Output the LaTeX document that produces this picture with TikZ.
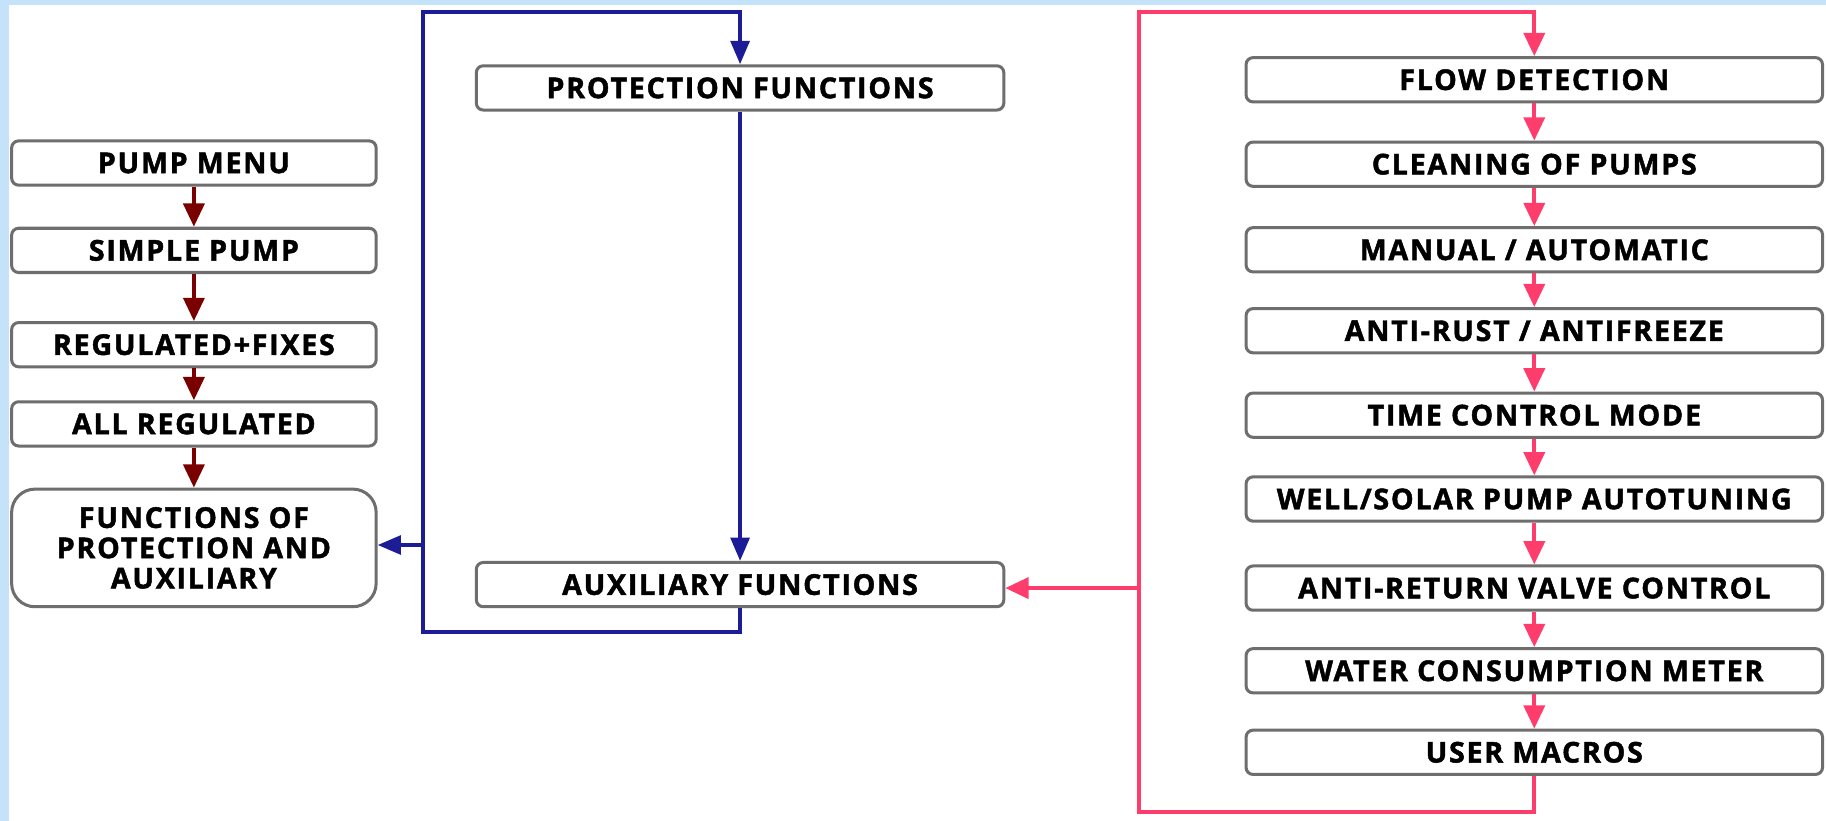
\documentclass[tikz,border=0pt]{standalone}
\usepackage{fontspec}
\newfontfamily\boxfont[LetterSpace=6, BoldFeatures={FakeBold=1.6}]{Open Sans}
\usetikzlibrary{arrows.meta}
\definecolor{edgeblue}{HTML}{C4E2FA}
\definecolor{boxgray}{HTML}{6E6E6E}
\definecolor{menured}{HTML}{7A0000}
\definecolor{navyline}{HTML}{1C1C96}
\definecolor{pinkline}{HTML}{FF3D6C}
\tikzset{
  box/.style={draw=boxgray, line width=1.3pt, rounded corners=3pt, fill=white,
    minimum height=19pt, inner sep=0pt, align=center,
    font=\boxfont\bfseries\fontsize{12.3}{13}\selectfont},
  lbox/.style={box, minimum width=156.5pt},
  mbox/.style={box, minimum width=226.5pt},
  rbox/.style={box, minimum width=247.5pt},
  redarrow/.style={draw=menured, line width=1.7pt, -{Triangle[length=10pt,width=9pt]}},
  navyarrow/.style={draw=navyline, line width=1.7pt, -{Triangle[length=10pt,width=8pt]}},
  pinkarrow/.style={draw=pinkline, line width=1.7pt, -{Triangle[length=10pt,width=9pt]}}
}
\begin{document}
\begin{tikzpicture}[x=0.5pt, y=-0.5pt]
\useasboundingbox (0,0) rectangle (1568,705);
% page background with the light blue edges
\fill[white] (0,0) rectangle (1568,705);
\fill[edgeblue] (0,0) rectangle (8,705);
\shade[left color=edgeblue, middle color=white, right color=edgeblue] (0,0) rectangle (1568,4);

% pump menu column
\node[lbox] (pm) at (166.5,140) {PUMP MENU};
\node[lbox] (sp) at (166.5,215) {SIMPLE PUMP};
\node[lbox] (rf) at (166.5,296) {REGULATED+FIXES};
\node[lbox] (ar) at (166.5,364) {ALL REGULATED};
\node[lbox, minimum height=50.5pt, rounded corners=10pt] (fpa) at (166.5,470.5)
  {FUNCTIONS OF\\PROTECTION AND\\AUXILIARY};

\draw[redarrow] (pm) -- (sp);
\draw[redarrow] (sp) -- (rf);
\draw[redarrow] (rf) -- (ar);
\draw[redarrow] (ar) -- (fpa);

% protection / auxiliary column
\node[mbox] (prot) at (635.5,75.5) {PROTECTION FUNCTIONS};
\node[mbox] (aux) at (635.5,502) {AUXILIARY FUNCTIONS};

\coordinate (nb) at (363,543);
\coordinate (nt) at (363,10);
\coordinate (nm) at (363,468);
\draw[navyarrow] (aux.south) |- (nb) -- (nt) -| (prot.north);
\draw[navyarrow] (prot.south) -- (aux.north);
\draw[navyarrow] (nm) -- (fpa.east |- nm);

% auxiliary functions list
\node[rbox] (fd) at (1317.5,68.5) {FLOW DETECTION};
\node[rbox] (cl) at (1317.5,141) {CLEANING OF PUMPS};
\node[rbox] (ma) at (1317.5,214.5) {MANUAL / AUTOMATIC};
\node[rbox] (rust) at (1317.5,284) {ANTI-RUST / ANTIFREEZE};
\node[rbox] (tc) at (1317.5,356.5) {TIME CONTROL MODE};
\node[rbox] (well) at (1317.5,428.5) {WELL/SOLAR PUMP AUTOTUNING};
\node[rbox] (ret) at (1317.5,505) {ANTI-RETURN VALVE CONTROL};
\node[rbox] (wat) at (1317.5,576) {WATER CONSUMPTION METER};
\node[rbox] (um) at (1317.5,646) {USER MACROS};

\draw[pinkarrow] (fd) -- (cl);
\draw[pinkarrow] (cl) -- (ma);
\draw[pinkarrow] (ma) -- (rust);
\draw[pinkarrow] (rust) -- (tc);
\draw[pinkarrow] (tc) -- (well);
\draw[pinkarrow] (well) -- (ret);
\draw[pinkarrow] (ret) -- (wat);
\draw[pinkarrow] (wat) -- (um);

\coordinate (pb) at (978,697);
\coordinate (pt) at (978,10);
\coordinate (pm2) at (978,505);
\draw[pinkarrow] (um.south) |- (pb) -- (pt) -| (fd.north);
\draw[pinkarrow] (pm2) -- (aux.east |- pm2);
\end{tikzpicture}
\end{document}
